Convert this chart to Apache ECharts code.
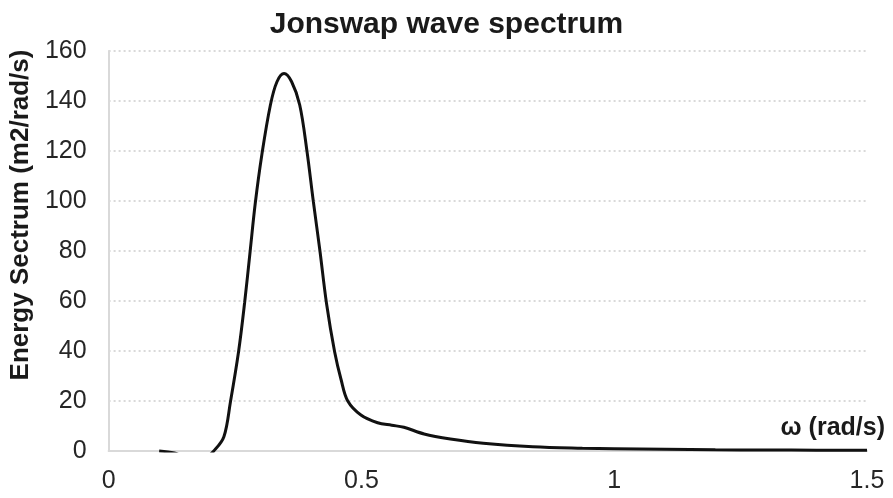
<!DOCTYPE html>
<html>
<head>
<meta charset="utf-8">
<title>Jonswap wave spectrum</title>
<script src="https://cdn.jsdelivr.net/npm/echarts@6/dist/echarts.min.js"></script>
<style>
  html, body { margin: 0; padding: 0; background: #ffffff; }
  #chart { width: 893px; height: 498px; }
</style>
</head>
<body>
<div id="chart"></div>
<script>
// Angular frequency (rad/s)
const omega = [
  0.10, 0.13, 0.15, 0.17, 0.19, 0.208, 0.228, 0.241, 0.257, 0.269, 0.280,
  0.290, 0.303, 0.320, 0.333, 0.347, 0.362, 0.378, 0.392, 0.405, 0.418,
  0.431, 0.447, 0.460, 0.473, 0.499, 0.532, 0.560, 0.584, 0.624, 0.676,
  0.741, 0.839, 0.937, 1.00, 1.10, 1.20, 1.30, 1.40, 1.50
];
// Spectral energy density (m2/rad/s)
const energy = [
  0.0, -0.8, -2.5, -4.0, -3.0, 0.0, 5.7, 19.7, 39.7, 59.3, 80.0,
  99.0, 118.4, 138.4, 147.7, 151.0, 147.7, 138.4, 120.4, 99.7, 80.0,
  59.0, 39.7, 28.4, 20.0, 14.4, 11.3, 10.3, 9.5, 6.8, 4.8,
  3.1, 1.7, 1.1, 0.9, 0.7, 0.5, 0.4, 0.35, 0.3
];
const xTicks = { min: 0, max: 1.5, step: 0.5 };
const yTicks = { min: 0, max: 160, step: 20 };

const points = omega.map((w, i) => [w, energy[i]]);
const font = '"Liberation Sans", Arial, sans-serif';

const chart = echarts.init(document.getElementById('chart'), null, { renderer: 'canvas' });
chart.setOption({
  animation: false,
  backgroundColor: '#ffffff',
  title: {
    text: 'Jonswap wave spectrum',
    left: 'center',
    top: 5,
    textStyle: { fontFamily: font, fontSize: 30, fontWeight: 'bold', color: '#1a1a1a' }
  },
  grid: { left: 102, right: 26, top: 51, bottom: 47, containLabel: false },
  xAxis: {
    type: 'value',
    min: xTicks.min,
    max: xTicks.max,
    interval: xTicks.step,
    name: 'ω (rad/s)',
    nameLocation: 'end',
    nameGap: 18,
    nameTextStyle: {
      fontFamily: font, fontSize: 25, fontWeight: 'bold', color: '#1a1a1a',
      align: 'right', verticalAlign: 'bottom', padding: [0, 0, 10, 0]
    },
    axisLine: { show: true, lineStyle: { color: '#d9d9d9', width: 2 } },
    axisTick: { show: false },
    axisLabel: { fontFamily: font, fontSize: 25, color: '#262626', margin: 18 },
    splitLine: { show: false }
  },
  yAxis: {
    type: 'value',
    min: yTicks.min,
    max: yTicks.max,
    interval: yTicks.step,
    name: 'Energy Sectrum (m2/rad/s)',
    nameLocation: 'middle',
    nameGap: 70,
    nameTextStyle: {
      fontFamily: font, fontSize: 26, fontWeight: 'bold', color: '#1a1a1a',
      padding: [0, 0, 0, 72]
    },
    axisLine: { show: true, lineStyle: { color: '#d9d9d9', width: 2 } },
    axisTick: { show: false },
    axisLabel: { fontFamily: font, fontSize: 25, color: '#262626', margin: 22 },
    splitLine: { show: true, lineStyle: { color: '#d9d9d9', width: 2, type: [2, 3] } }
  },
  series: [{
    type: 'line',
    data: points,
    smooth: 0.35,
    clip: true,
    showSymbol: false,
    lineStyle: { color: '#111111', width: 3 }
  }]
});
</script>
</body>
</html>
